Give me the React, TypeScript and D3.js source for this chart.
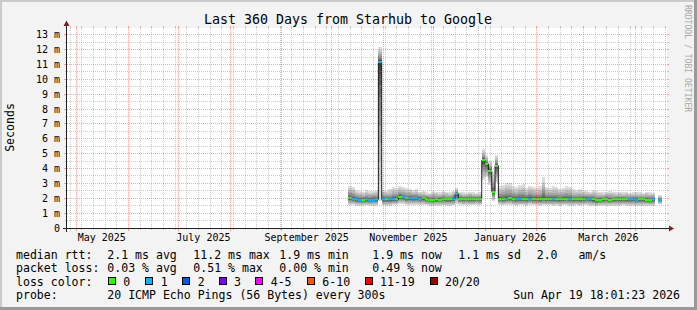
import React from "react";
import * as d3 from "d3";

// ---------- data ----------
const END_TIME = Date.UTC(2026, 3, 19, 18, 1, 23);
const DAY_MS = 86400000;
const SPAN_DAYS = 360;
const FIRST_COLUMN = Date.UTC(2025, 9, 11);
const COLUMN_DAYS = 2;

const medianRtt: (number | null)[] = [
  2.03, 1.98, 1.92, 1.9, 1.9, 1.92, 1.9, 1.91, 1.93, 11.2,
  1.92, 1.93, 1.92, 1.95, 1.93, 2.1, 2.08, 2.0, 2.02, 2.0,
  2.02, 1.98, 1.99, 1.97, 1.91, 1.9, 1.92, 1.91, 1.93, 1.92,
  1.93, 1.94, 2.3, 1.96, 1.95, 1.98, 1.96, 1.95, 1.96, 1.95,
  4.55, 4.3, 3.85, 2.45, 4.2, 1.98, 1.95, 1.98, 2.0, 1.96,
  1.93, 1.95, 1.96, 1.93, 1.98, 1.96, 1.95, 1.93, 1.97, 1.96,
  1.96, 1.94, 1.95, 1.93, 1.96, 1.97, 1.95, 1.92, 1.95, 1.93,
  1.96, 1.98, 1.94, 1.92, 1.86, 1.9, 1.92, 1.94, 1.9, 1.92,
  1.95, 1.93, 1.96, 1.92, 1.93, 1.94, 1.9, 1.93, 1.92, 1.91,
  1.9, 1.92, null, 1.9,
];
const lossIndex: (number | null)[] = [
  0, 1, 1, 1, 0, 1, 1, 1, 1, 1,
  1, 0, 1, 1, 0, 0, 1, 0, 1, 1,
  1, 1, 0, 0, 0, 0, 0, 0, 0, 0,
  0, 1, 1, 0, 0, 0, 0, 0, 0, 0,
  0, 0, 0, 0, 0, 0, 0, 1, 0, 0,
  1, 1, 0, 0, 1, 0, 0, 0, 0, 0,
  0, 1, 0, 0, 0, 0, 1, 0, 0, 0,
  0, 1, 1, 0, 0, 0, 0, 0, 0, 0,
  0, 0, 0, 0, 1, 1, 1, 0, 0, 0,
  0, 1, null, 1,
];
const smokeMax: (number | null)[] = [
  2.85, 2.75, 2.55, 2.5, 2.45, 2.55, 2.5, 2.5, 2.55, 12.2,
  2.55, 2.5, 2.6, 2.75, 2.7, 2.8, 2.75, 2.7, 2.65, 2.55,
  2.6, 2.45, 2.5, 2.4, 2.35, 2.5, 2.45, 2.4, 2.5, 2.45,
  2.4, 2.5, 2.7, 2.45, 2.4, 2.35, 2.45, 2.4, 2.35, 2.4,
  5.35, 4.9, 4.5, 3.8, 4.9, 2.8, 2.9, 3.05, 3.0, 2.8,
  2.75, 2.9, 2.95, 2.7, 2.85, 2.75, 2.7, 2.8, 3.4, 2.75,
  2.7, 2.8, 2.75, 2.65, 2.7, 2.8, 2.75, 2.6, 2.55, 2.6,
  2.55, 2.5, 2.45, 2.55, 2.5, 2.45, 2.4, 2.45, 2.5, 2.45,
  2.4, 2.45, 2.4, 2.45, 2.35, 2.4, 2.45, 2.4, 2.35, 2.45,
  2.4, 2.35, null, 2.2,
];
const smokeMin: (number | null)[] = [
  1.55, 1.55, 1.5, 1.5, 1.5, 1.52, 1.5, 1.5, 1.5, 1.8,
  1.52, 1.5, 1.5, 1.55, 1.55, 1.6, 1.6, 1.55, 1.55, 1.55,
  1.55, 1.55, 1.55, 1.52, 1.5, 1.5, 1.5, 1.5, 1.52, 1.5,
  1.5, 1.52, 1.6, 1.55, 1.52, 1.55, 1.52, 1.52, 1.55, 1.52,
  3.2, 3.4, 2.9, 1.8, 3.0, 1.55, 1.52, 1.55, 1.55, 1.52,
  1.5, 1.52, 1.52, 1.5, 1.55, 1.52, 1.52, 1.5, 1.52, 1.52,
  1.52, 1.5, 1.52, 1.5, 1.52, 1.52, 1.5, 1.5, 1.52, 1.5,
  1.52, 1.52, 1.5, 1.48, 1.45, 1.48, 1.5, 1.5, 1.48, 1.5,
  1.5, 1.5, 1.52, 1.5, 1.5, 1.5, 1.48, 1.5, 1.5, 1.48,
  1.48, 1.5, null, 1.6,
];

const yTickValues = [0, 1, 2, 3, 4, 5, 6, 7, 8, 9, 10, 11, 12, 13];
const monthLabels = ["May 2025", "July 2025", "September 2025", "November 2025", "January 2026", "March 2026"];
const monthLabelDates = [
  Date.UTC(2025, 4, 1), Date.UTC(2025, 6, 1), Date.UTC(2025, 8, 1),
  Date.UTC(2025, 10, 1), Date.UTC(2026, 0, 1), Date.UTC(2026, 2, 1),
];
const lossColors = ["#26ff00", "#00b8ff", "#0059ff", "#7e00ff", "#ff00ff", "#ff5500", "#ff0000", "#a10000"];
const lossLabels = ["0", "1", "2", "3", "4-5", "6-10", "11-19", "20/20"];
const rttStats = ["2.1 ms avg", "11.2 ms max", "1.9 ms min", "1.9 ms now", "1.1 ms sd", "2.0   am/s"];
const lossStats = ["0.03 % avg", "0.51 % max", "0.00 % min", "0.49 % now"];
const titleText = "Last 360 Days from Starhub to Google";
const probeText = "20 ICMP Echo Pings (56 Bytes) every 300s";
const dateText = "Sun Apr 19 18:01:23 2026";

// ---------- layout ----------
const W = 697;
const H = 310;
const X0 = 67;
const X1 = 667;
const Y0 = 228;
const Y1 = 28;
const MONO = "'DejaVu Sans Mono', monospace";
const statX = [107.3, 193.3, 279.3, 372.3, 458.3, 536.7];
const swatchX = [108.3, 145.7, 182.7, 219, 255.7, 307.3, 365, 430];

export default function App() {
  const x = d3.scaleUtc().domain([END_TIME - SPAN_DAYS * DAY_MS, END_TIME]).range([X0 - 0.7, X1 - 0.7]);
  const y = d3.scaleLinear().domain([0, 13.46]).range([Y0, Y1]);
  const px = (v: number) => Math.floor(v) + 0.5;

  const start = new Date(END_TIME - SPAN_DAYS * DAY_MS);
  const end = new Date(END_TIME);
  const months = d3.utcMonth.range(start, end);
  const monthKeys = new Set(months.map((d) => +d));
  const weeks = d3.utcSunday.range(start, end).filter((d) => !monthKeys.has(+d));

  const minorY = d3.range(0.5, 13.46, 1);
  const majorY = yTickValues.filter((v) => v > 0);

  const cols = medianRtt.map((m, k) => {
    const t0 = FIRST_COLUMN + k * COLUMN_DAYS * DAY_MS;
    const t1 = t0 + COLUMN_DAYS * DAY_MS;
    return { k, m, t0, t1, x0: x(new Date(t0)), x1: Math.min(x(new Date(t1)), X1) };
  });

  // smoke bands
  const nBands = 10;
  const smokeRects: JSX.Element[] = [];
  cols.forEach((c) => {
    const hi = smokeMax[c.k];
    const lo = smokeMin[c.k];
    if (c.m == null || hi == null || lo == null) return;
    for (let i = 0; i < nBands; i++) {
      const t = (nBands - i) / nBands;
      const bHi = c.m + (hi - c.m) * t * t;
      const bLo = c.m - (c.m - lo) * Math.pow(t, 1.5);
      const g = Math.round(221 - 19 * i);
      smokeRects.push(
        <rect
          key={`s${c.k}-${i}`}
          x={c.x0}
          width={c.x1 - c.x0}
          y={y(bHi)}
          height={y(bLo) - y(bHi)}
          fill={`rgb(${g},${g},${g})`}
        />
      );
    }
  });

  // median black line, segmented on gaps
  const runs: { x: number; v: number }[][] = [];
  let cur: { x: number; v: number }[] = [];
  cols.forEach((c) => {
    if (c.m == null) {
      if (cur.length) runs.push(cur);
      cur = [];
      return;
    }
    cur.push({ x: c.x0, v: c.m });
    cur.push({ x: c.x1, v: c.m });
  });
  if (cur.length) runs.push(cur);
  const line = d3
    .line<{ x: number; v: number }>()
    .x((d) => d.x)
    .y((d) => y(d.v));

  const axisColor = "#202020";
  const minorColor = "rgba(140,140,140,0.45)";
  const majorColor = "rgba(255,40,40,0.42)";

  return (
    <svg
      width={W}
      height={H}
      style={{ position: "fixed", left: 0, top: 0, display: "block" }}
      fontFamily={MONO}
    >
      {/* background and frame */}
      <rect x={0} y={0} width={W} height={H} fill="#f3f3f3" />
      <rect x={0} y={0} width={W} height={2} fill="#cbcbcb" />
      <rect x={0} y={0} width={2} height={H} fill="#cbcbcb" />
      <rect x={0} y={H - 3} width={W} height={3} fill="#999999" />
      <rect x={W - 3} y={0} width={3} height={H} fill="#999999" />
      <rect x={X0} y={Y1} width={X1 - X0} height={Y0 - Y1} fill="#ffffff" />

      {/* data */}
      <g shapeRendering="crispEdges">{smokeRects}</g>
      <g fill="none" stroke="#202020" strokeWidth={1}>
        {runs.map((r, i) => (
          <path key={i} d={line(r) || ""} />
        ))}
      </g>
      <g shapeRendering="crispEdges">
        {cols.map((c) =>
          c.m == null || lossIndex[c.k] == null ? null : (
            <rect
              key={`m${c.k}`}
              x={c.x0}
              width={c.x1 - c.x0}
              y={y(c.m) - 1}
              height={2}
              fill={lossColors[lossIndex[c.k] as number]}
            />
          )
        )}
      </g>

      {/* grid */}
      <g shapeRendering="crispEdges" strokeWidth={1}>
        {minorY.map((v) => (
          <g key={`my${v}`} stroke={minorColor}>
            <line x1={X0} x2={X1} y1={px(y(v))} y2={px(y(v))} strokeDasharray="1,1" />
            <line x1={X0 - 2} x2={X0} y1={px(y(v))} y2={px(y(v))} />
            <line x1={X1} x2={X1 + 2} y1={px(y(v))} y2={px(y(v))} />
          </g>
        ))}
        {weeks.map((d) => (
          <g key={`wx${+d}`} stroke={minorColor}>
            <line x1={px(x(d))} x2={px(x(d))} y1={Y1} y2={Y0} strokeDasharray="1,1" />
            <line x1={px(x(d))} x2={px(x(d))} y1={Y0} y2={Y0 + 2} />
            <line x1={px(x(d))} x2={px(x(d))} y1={Y1 - 2} y2={Y1} />
          </g>
        ))}
        {majorY.map((v) => (
          <g key={`My${v}`} stroke={majorColor}>
            <line x1={X0} x2={X1} y1={px(y(v))} y2={px(y(v))} strokeDasharray="1,1" />
            <line x1={X0 - 3} x2={X0} y1={px(y(v))} y2={px(y(v))} />
            <line x1={X1} x2={X1 + 2} y1={px(y(v))} y2={px(y(v))} />
          </g>
        ))}
        {months.map((d) => (
          <g key={`Mx${+d}`} stroke={majorColor}>
            <line x1={px(x(d))} x2={px(x(d))} y1={Y1} y2={Y0} strokeDasharray="1,1" />
            <line x1={px(x(d))} x2={px(x(d))} y1={Y0} y2={Y0 + 3} />
            <line x1={px(x(d))} x2={px(x(d))} y1={Y1 - 2} y2={Y1} />
          </g>
        ))}
      </g>

      {/* axes */}
      <g shapeRendering="crispEdges" stroke={axisColor} strokeWidth={1}>
        <line x1={X0 - 4} x2={X1 + 4} y1={Y0 + 0.5} y2={Y0 + 0.5} />
        <line x1={X0 - 0.5} x2={X0 - 0.5} y1={Y0 + 4} y2={Y1 - 4} />
      </g>
      <path
        d={`M${X1 + 2},${Y0 - 2.5} L${X1 + 2},${Y0 + 3.5} L${X1 + 7},${Y0 + 0.5} Z`}
        fill="#7f1f1f"
      />
      <path
        d={`M${X0 - 3.5},${Y1 - 2} L${X0 + 2.5},${Y1 - 2} L${X0 - 0.5},${Y1 - 7.5} Z`}
        fill="#7f1f1f"
      />

      {/* y labels */}
      <g fontSize={10} fill="#000" textAnchor="end">
        {yTickValues.map((v) => (
          <text key={`yl${v}`} x={60} y={px(y(v)) + 3.3}>
            {v === 0 ? "0" : `${v} m`}
          </text>
        ))}
      </g>
      {/* x labels */}
      <g fontSize={10} fill="#000" textAnchor="middle">
        {monthLabels.map((lab, i) => (
          <text key={lab} x={x(new Date(monthLabelDates[i] + 15 * DAY_MS))} y={241.3}>
            {lab}
          </text>
        ))}
      </g>

      {/* title, unit, watermark */}
      <text x={348} y={23.5} fontSize={13.3} textAnchor="middle" fill="#000">
        {titleText}
      </text>
      <text
        transform={`translate(14.3,127.5) rotate(-90)`}
        fontSize={11.55}
        textAnchor="middle"
        fill="#000"
      >
        Seconds
      </text>
      <text
        transform={`translate(685,5) rotate(90)`}
        fontSize={8.1}
        fill="#a8a8a8"
      >
        RRDTOOL / TOBI OETIKER
      </text>

      {/* legend */}
      <g fontSize={11.55} fill="#000" style={{ whiteSpace: "pre" }}>
        <text x={16} y={258.6}>median rtt:</text>
        {rttStats.map((s, i) => (
          <text key={`r${i}`} x={statX[i]} y={258.6} xmlSpace="preserve">
            {s}
          </text>
        ))}
        <text x={16} y={272.1}>packet loss:</text>
        {lossStats.map((s, i) => (
          <text key={`l${i}`} x={statX[i]} y={272.1}>
            {s}
          </text>
        ))}
        <text x={16} y={285.6}>loss color:</text>
        {lossLabels.map((s, i) => (
          <g key={`c${i}`}>
            <rect
              x={Math.floor(swatchX[i]) + 0.5}
              y={277.5}
              width={7}
              height={7}
              fill={lossColors[i]}
              stroke="#000"
              strokeWidth={1}
              shapeRendering="crispEdges"
            />
            <text x={swatchX[i] + 15} y={285.6}>
              {s}
            </text>
          </g>
        ))}
        <text x={16} y={299.1}>probe:</text>
        <text x={statX[0]} y={299.1}>{probeText}</text>
        <text x={680} y={299.1} textAnchor="end">{dateText}</text>
      </g>
    </svg>
  );
}
